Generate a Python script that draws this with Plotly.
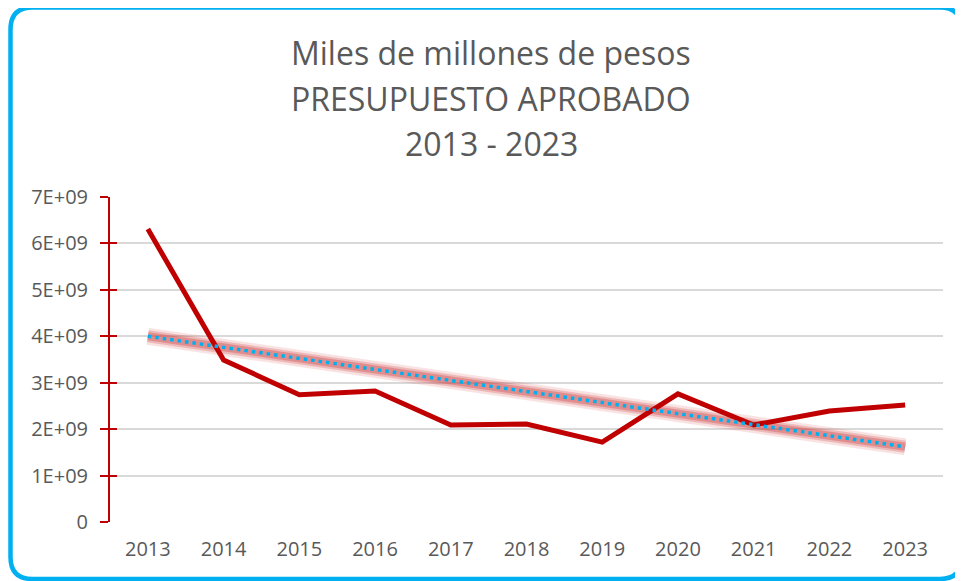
import plotly.graph_objects as go

# data
years = ["2013", "2014", "2015", "2016", "2017", "2018",
         "2019", "2020", "2021", "2022", "2023"]
presupuesto = [6.31e9, 3.49e9, 2.74e9, 2.82e9, 2.09e9, 2.11e9,
               1.72e9, 2.76e9, 2.09e9, 2.39e9, 2.52e9]
trend_years = ["2013", "2023"]
trend_values = [4.0e9, 1.62e9]
y_ticks = [0, 1e9, 2e9, 3e9, 4e9, 5e9, 6e9, 7e9]
y_tick_text = ["0", "1E+09", "2E+09", "3E+09", "4E+09", "5E+09", "6E+09", "7E+09"]
title_lines = ["Miles de millones de pesos", "PRESUPUESTO APROBADO", "2013 - 2023"]

# page body has an 8px margin, so the figure starts at (8, 8)
OFF = 8
W, H = 963 - OFF, 581 - OFF
ML, MR, MT, MB = 110 - OFF, 20, 197 - OFF, 59
RED = "#C00000"
CYAN = "#00B0F0"
GREY = "#595959"


def px(x):
    # window pixel -> paper x
    return (x - OFF - ML) / (W - ML - MR)


def py(y):
    # window pixel -> paper y
    return (H - MB - (y - OFF)) / (H - MT - MB)


def rounded_rect(x0, y0, x1, y1, r):
    pts = [
        f"M {px(x0 + r)} {py(y0)}",
        f"L {px(x1 - r)} {py(y0)}",
        f"Q {px(x1)} {py(y0)} {px(x1)} {py(y0 + r)}",
        f"L {px(x1)} {py(y1 - r)}",
        f"Q {px(x1)} {py(y1)} {px(x1 - r)} {py(y1)}",
        f"L {px(x0 + r)} {py(y1)}",
        f"Q {px(x0)} {py(y1)} {px(x0)} {py(y1 - r)}",
        f"L {px(x0)} {py(y0 + r)}",
        f"Q {px(x0)} {py(y0)} {px(x0 + r)} {py(y0)} Z",
    ]
    return " ".join(pts)


fig = go.Figure()

# trend line: soft red glow under a dotted cyan line
for w, a in [(17, 0.15), (12, 0.25), (8, 0.35)]:
    fig.add_trace(go.Scatter(x=trend_years, y=trend_values, mode="lines",
                             line=dict(color=f"rgba(205,60,60,{a})", width=w)))
fig.add_trace(go.Scatter(x=years, y=presupuesto, mode="lines",
                         line=dict(color=RED, width=5)))
fig.add_trace(go.Scatter(x=trend_years, y=trend_values, mode="lines",
                         line=dict(color=CYAN, width=3.5, dash="3.5px,4px")))

# second axis just to get ticks crossing the red axis line
fig.add_trace(go.Scatter(x=years, y=presupuesto, yaxis="y2", mode="lines",
                         line=dict(width=0), opacity=0, showlegend=False))

for i, t in enumerate(title_lines):
    fig.add_annotation(text=t, xref="paper", yref="paper",
                       x=px(491), y=py([53, 98, 143][i]),
                       xanchor="center", yanchor="middle", showarrow=False,
                       font=dict(family="Open Sans", size=32, color=GREY))

fig.add_shape(type="path", xref="paper", yref="paper",
              path=rounded_rect(10.5, 7.5, 962, 579, 22),
              line=dict(color=CYAN, width=4.5), layer="above")

fig.update_layout(
    width=W, height=H,
    margin=dict(l=ML, r=MR, t=MT, b=MB),
    paper_bgcolor="white", plot_bgcolor="white",
    showlegend=False, hovermode=False,
    font=dict(family="Open Sans", color=GREY),
    xaxis=dict(type="category", categoryorder="array", categoryarray=years,
               range=[-0.5, 10.5], showgrid=False, zeroline=False,
               showline=False, ticks="", ticklabelstandoff=13,
               tickfont=dict(size=20, color=GREY)),
    yaxis=dict(range=[0, 7e9], tickvals=y_ticks, ticktext=y_tick_text,
               showgrid=True, gridcolor="#D9D9D9", gridwidth=2,
               zeroline=False, showline=True, linecolor=RED, linewidth=2,
               ticks="outside", ticklen=8, tickcolor=RED, tickwidth=2,
               ticklabelstandoff=8, tickfont=dict(size=20, color=GREY)),
    yaxis2=dict(range=[0, 7e9], overlaying="y", side="left",
                tickvals=y_ticks[1:], ticks="inside", ticklen=7,
                tickcolor=RED, tickwidth=2, showticklabels=False,
                showgrid=False, zeroline=False, showline=False),
)

fig.write_html("out.html")
